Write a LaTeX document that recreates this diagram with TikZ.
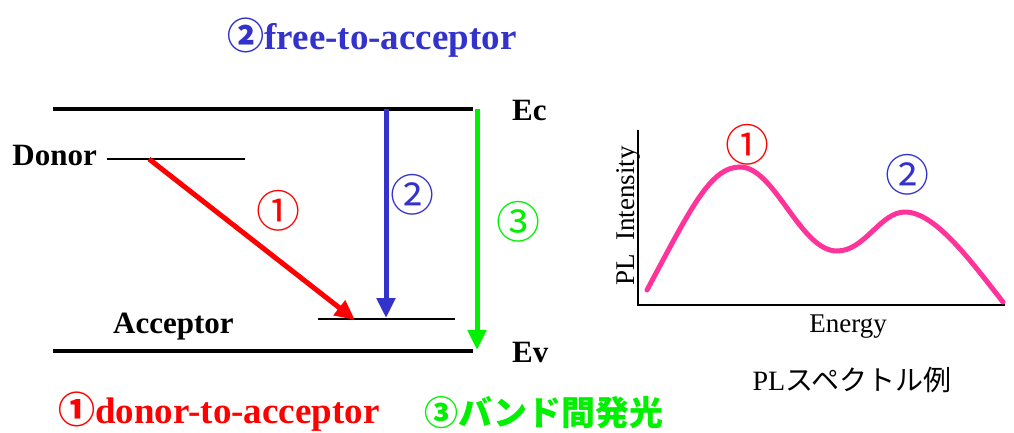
\documentclass[tikz,border=0pt]{standalone}
\usepackage{fontspec}
\setmainfont{Liberation Serif}
\newfontfamily\jpfont{Noto Sans CJK JP}
\usepackage{tikz}
\usepackage{xcolor}
\usetikzlibrary{arrows.meta,positioning}
\definecolor{ink}{HTML}{000000}
\definecolor{trred}{HTML}{FF0000}
\definecolor{trblue}{HTML}{3333CC}
\definecolor{trgreen}{HTML}{00F000}
\definecolor{plpink}{HTML}{FF3399}
\tikzset{
  bandline/.style={draw=ink, line width=4pt},
  levelline/.style={draw=ink, line width=1.4pt},
  transarrow/.style={line width=5pt, -{Triangle[length=20pt,width=18pt]}},
  bandlabel/.style={font=\fontsize{31}{31}\selectfont\bfseries, inner sep=0pt},
  circnum/.style={font=\jpfont\fontsize{44}{44}\selectfont, inner sep=0pt},
  caption/.style={font=\fontsize{37}{37}\selectfont\bfseries, inner sep=0pt},
  axislabel/.style={font=\fontsize{27}{27}\selectfont, inner sep=0pt},
  plcurve/.style={draw=plpink, line width=5pt, line cap=round}
}

\begin{document}
\begin{tikzpicture}[x=1pt,y=-1pt]
  \useasboundingbox (0,0) rectangle (1014,432);

  % band edges
  \coordinate (ecL) at (53,109);
  \coordinate (ecR) at (473,109);
  \coordinate (evL) at (53,351);
  \coordinate (evR) at (473,351);
  \draw[bandline] (ecL) -- (ecR);
  \draw[bandline] (evL) -- (evR);
  \node[bandlabel,anchor=west] (ec) at (512,110) {Ec};
  \node[bandlabel,anchor=west] (ev) at (512,352) {Ev};

  % impurity levels
  \coordinate (donL) at (107,159);
  \coordinate (donR) at (245,159);
  \coordinate (accL) at (318,319);
  \coordinate (accR) at (455,319);
  \draw[levelline] (donL) -- (donR);
  \draw[levelline] (accL) -- (accR);
  \node[bandlabel,anchor=base east] (donor) at (97,165) {Donor};
  \node[bandlabel,anchor=base west] (acceptor) at (113,333) {Acceptor};

  % transitions
  \coordinate (redS) at (149,159);
  \coordinate (redE) at (355,320);
  \coordinate (bluS) at (386,109);
  \coordinate (bluE) at (386,318);
  \coordinate (grnS) at (477,109);
  \coordinate (grnE) at (477,350);
  \draw[transarrow,trred] (redS) -- (redE);
  \draw[transarrow,trblue] (bluS) -- (bluE);
  \draw[transarrow,trgreen] (grnS) -- (grnE);
  \node[circnum,text=trred] (n1) at (278,211) {①};
  \node[circnum,text=trblue] (n2) at (412,195) {②};
  \node[circnum,text=trgreen] (n3) at (518,222) {③};

  % captions
  \node[caption,text=trblue] (cap2) at (372,38) {{\jpfont ②}free-to-acceptor};
  \node[caption,text=trred,anchor=west] (cap1) at (58,412) {{\jpfont ①}donor-to-acceptor};
  \node[caption,text=trgreen,anchor=west,font=\jpfont\fontsize{34}{34}\selectfont\bfseries] (cap3) at (424,413) {③バンド間発光};

  % PL spectrum
  \coordinate (ytop) at (638,130);
  \coordinate (orig) at (638,305);
  \coordinate (xend) at (1005,305);
  \draw[levelline] (ytop) -- (orig) -- (xend);
  \draw[plcurve] (647,290) .. controls (690,210) and (710,167) .. (740,167)
    .. controls (775,167) and (800,251) .. (837,251)
    .. controls (865,251) and (880,212) .. (905,212)
    .. controls (935,212) and (970,260) .. (1003,302);
  \node[axislabel,rotate=90] (ylab) at (628,216) {PL\ \ Intensity};
  \node[axislabel] (xlab) at (848,327) {Energy};
  \node[circnum,text=trred] (p1) at (747,145) {①};
  \node[circnum,text=trblue] (p2) at (907,175) {②};
  \node[axislabel,font=\fontsize{28}{28}\selectfont] (spec) at (852,380) {PL{\jpfont スペクトル例}};
\end{tikzpicture}
\end{document}
